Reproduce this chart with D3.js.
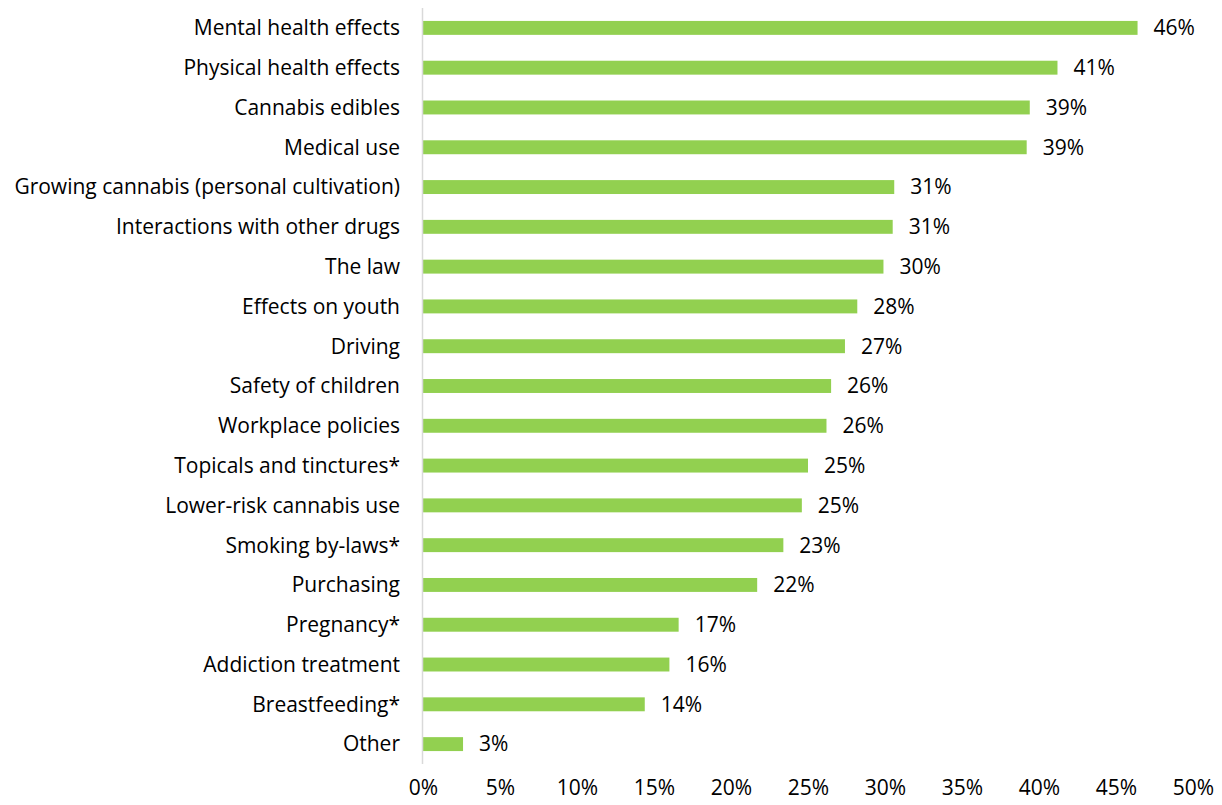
<!DOCTYPE html>
<html><head><meta charset="utf-8">
<script src="https://cdn.jsdelivr.net/npm/d3@7"></script>
<style>body{margin:0;background:#fff;} text{font-family:"Open Sans", sans-serif; fill:#000;}</style>
</head><body>
<svg id="c" width="1222" height="805"></svg>
<script>
const categories = ["Mental health effects","Physical health effects","Cannabis edibles","Medical use","Growing cannabis (personal cultivation)","Interactions with other drugs","The law","Effects on youth","Driving","Safety of children","Workplace policies","Topicals and tinctures*","Lower-risk cannabis use","Smoking by-laws*","Purchasing","Pregnancy*","Addiction treatment","Breastfeeding*","Other"];
const values = [46.4,41.2,39.4,39.2,30.6,30.5,29.9,28.2,27.4,26.5,26.2,25.0,24.6,23.4,21.7,16.6,16.0,14.4,2.6];
const valueLabels = ["46%","41%","39%","39%","31%","31%","30%","28%","27%","26%","26%","25%","25%","23%","22%","17%","16%","14%","3%"];
const ticks = [0,5,10,15,20,25,30,35,40,45,50];

const svg = d3.select("#c");
const x = d3.scaleLinear().domain([0,50]).range([423,1193]);
const y = d3.scaleBand().domain(categories).range([8,764]).paddingInner(0.65).paddingOuter(0.325);

svg.selectAll("rect.bar").data(values).join("rect").attr("class","bar")
  .attr("x",x(0)).attr("y",(d,i)=>y(categories[i]))
  .attr("width",d=>x(d)-x(0)).attr("height",y.bandwidth())
  .attr("fill","#92d050");

svg.append("line").attr("x1",422.5).attr("x2",422.5).attr("y1",8).attr("y2",764)
  .attr("stroke","#d9d9d9").attr("stroke-width",1.5);

svg.selectAll("text.val").data(values).join("text").attr("class","val")
  .attr("x",d=>x(d)+16).attr("y",(d,i)=>y(categories[i])+y.bandwidth()/2)
  .attr("dy","0.35em").attr("font-size",21).text((d,i)=>valueLabels[i]);

svg.selectAll("text.cat").data(categories).join("text").attr("class","cat")
  .attr("x",400).attr("y",d=>y(d)+y.bandwidth()/2).attr("dy","0.35em")
  .attr("text-anchor","end").attr("font-size",21).text(d=>d);

const axis = d3.axisBottom(x).tickValues(ticks).tickFormat(d=>d+"%").tickSize(0).tickPadding(0);
const g = svg.append("g").attr("transform","translate(0,780)").call(axis);
g.select(".domain").remove();
g.selectAll("text").attr("font-size",21).attr("font-family","'Open Sans', sans-serif").attr("fill","#000");
</script>
</body></html>
